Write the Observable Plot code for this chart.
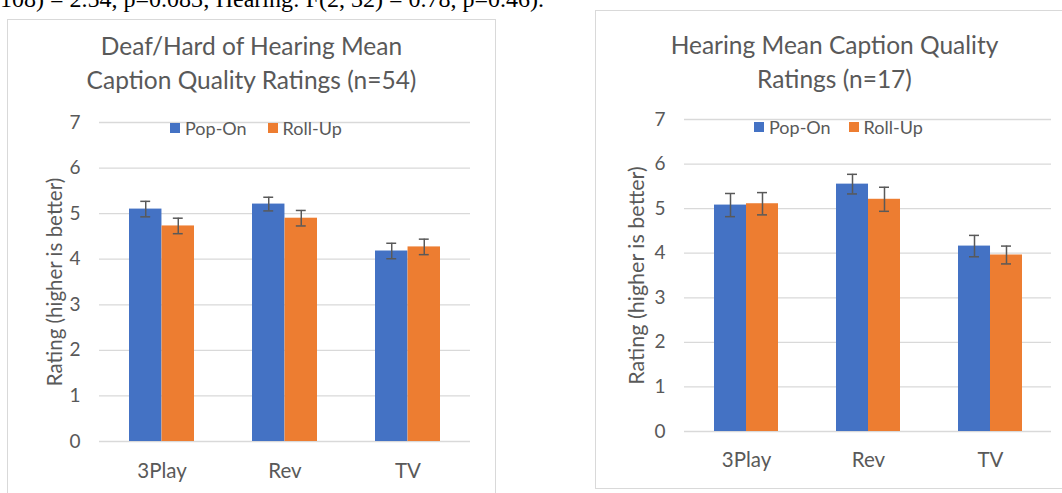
<!DOCTYPE html>
<html><head><meta charset="utf-8">
<script src="https://cdn.jsdelivr.net/npm/d3@7"></script>
<script src="https://cdn.jsdelivr.net/npm/@observablehq/plot@0.6"></script>
<style>
body{margin:0;background:#fff;}
#page{position:relative;width:1062px;height:493px;overflow:hidden;font-family:Lato,sans-serif;color:#595959;background:#fff;}
.box{position:absolute;border:1px solid #d9d9d9;box-sizing:border-box;}
.title{position:absolute;text-align:center;font-size:24.5px;line-height:34px;white-space:nowrap;}
.legend{position:absolute;font-size:18px;height:20px;display:flex;align-items:center;white-space:nowrap;}
.sw{display:inline-block;width:10px;height:10px;margin-right:5px;}
.plot{position:absolute;}
#note{position:absolute;left:0;top:-13.5px;font-family:"Liberation Serif",serif;font-size:24px;line-height:24px;color:#000;white-space:nowrap;}
</style></head><body>
<div id="page">
  <div id="note">108) = 2.54, p=0.083; Hearing: F(2, 32) = 0.78, p=0.46).</div>
</div>
<script>
const categories = ["3Play", "Rev", "TV"];
const seriesNames = ["Pop-On", "Roll-Up"];
const seriesColors = ["#4472C4", "#ED7D31"];
const yTicks = [0, 1, 2, 3, 4, 5, 6, 7];
const yLabel = "Rating (higher is better)";

const dhhTitle = ["Deaf/Hard of Hearing Mean", "Caption Quality Ratings (n=54)"];
const dhhPopOn = [5.10, 5.21, 4.18];
const dhhPopOnErr = [0.17, 0.15, 0.17];
const dhhRollUp = [4.73, 4.90, 4.27];
const dhhRollUpErr = [0.17, 0.17, 0.17];

const hearTitle = ["Hearing Mean Caption Quality", "Ratings (n=17)"];
const hearPopOn = [5.08, 5.55, 4.16];
const hearPopOnErr = [0.26, 0.22, 0.24];
const hearRollUp = [5.11, 5.21, 3.96];
const hearRollUpErr = [0.25, 0.27, 0.20];

const page = document.getElementById("page");

function el(cls, css, html) {
  const d = document.createElement("div");
  if (cls) d.className = cls;
  Object.assign(d.style, css);
  if (html != null) d.innerHTML = html;
  page.appendChild(d);
  return d;
}

function legend(left, top, gap) {
  const lg = el("legend", {left: left + "px", top: top + "px"});
  seriesNames.forEach((s, i) => {
    const sw = document.createElement("span");
    sw.className = "sw";
    sw.style.background = seriesColors[i];
    lg.appendChild(sw);
    const t = document.createElement("span");
    t.textContent = s;
    if (i === 0) t.style.marginRight = gap + "px";
    lg.appendChild(t);
  });
}

function chart(cfg) {
  const rows = categories.map((c, i) => ({
    cat: c,
    pop: cfg.pop[i], popErr: cfg.popErr[i],
    roll: cfg.roll[i], rollErr: cfg.rollErr[i]
  }));
  const W = cfg.width - cfg.mL - cfg.mR;
  const step = W / (categories.length - cfg.pi + 2 * cfg.po);
  const bw = step * (1 - cfg.pi);
  const half = bw / 2;
  const capW = 10;
  const errStyle = {stroke: "#595959", strokeWidth: 1.5};
  const capL = {insetLeft: half / 2 - capW / 2, insetRight: bw - half / 2 - capW / 2};
  const capR = {insetLeft: half + half / 2 - capW / 2, insetRight: half / 2 - capW / 2};
  const svg = Plot.plot({
    width: cfg.width,
    height: cfg.height,
    marginLeft: cfg.mL,
    marginRight: cfg.mR,
    marginTop: cfg.mT,
    marginBottom: cfg.mB,
    style: {fontFamily: "Lato, sans-serif", fontSize: cfg.tickFont + "px", color: "#595959", background: "transparent", overflow: "visible"},
    x: {domain: categories, paddingInner: cfg.pi, paddingOuter: cfg.po, tickSize: 0, tickPadding: cfg.xPad, label: null},
    y: {domain: [0, 7], ticks: yTicks, tickSize: 0, tickPadding: cfg.yPad, label: null, tickFormat: d => String(d)},
    marks: [
      Plot.ruleY(yTicks, {y: d => d, stroke: "#d9d9d9", strokeWidth: 1.3}),
      Plot.barY(rows, {x: "cat", y: "pop", fill: seriesColors[0], insetRight: half}),
      Plot.barY(rows, {x: "cat", y: "roll", fill: seriesColors[1], insetLeft: half}),
      Plot.ruleX(rows, {x: "cat", y1: d => d.pop - d.popErr, y2: d => d.pop + d.popErr, dx: -half / 2, ...errStyle}),
      Plot.ruleX(rows, {x: "cat", y1: d => d.roll - d.rollErr, y2: d => d.roll + d.rollErr, dx: half / 2, ...errStyle}),
      Plot.tickY(rows, {x: "cat", y: d => d.pop + d.popErr, ...capL, ...errStyle}),
      Plot.tickY(rows, {x: "cat", y: d => d.pop - d.popErr, ...capL, ...errStyle}),
      Plot.tickY(rows, {x: "cat", y: d => d.roll + d.rollErr, ...capR, ...errStyle}),
      Plot.tickY(rows, {x: "cat", y: d => d.roll - d.rollErr, ...capR, ...errStyle}),
      Plot.text([yLabel], {text: d => d, frameAnchor: "left", textAnchor: "middle", dx: -cfg.labelOff, rotate: -90, fontSize: cfg.labelFont, fill: "#595959"})
    ]
  });
  // category labels slightly larger than y tick labels
  svg.querySelectorAll("[aria-label='x-axis tick label'] text, g[aria-label^='x-axis'] text").forEach(t => t.setAttribute("font-size", cfg.catFont));
  svg.classList.add("plot");
  svg.style.left = cfg.left + "px";
  svg.style.top = cfg.top + "px";
  svg.style.position = "absolute";
  page.appendChild(svg);
}

// Left chart: Deaf/Hard of Hearing
el("box", {left: "7px", top: "19px", width: "489px", height: "490px"});
el("title", {left: "7px", top: "29px", width: "489px"}, dhhTitle.join("<br>"));
chart({
  pop: dhhPopOn, popErr: dhhPopOnErr, roll: dhhRollUp, rollErr: dhhRollUpErr,
  left: 0, top: 100, width: 496, height: 393,
  mL: 99, mR: 26, mT: 22, mB: 52,
  pi: 0.474, po: 0.236, xPad: 22, yPad: 19, labelOff: 44,
  tickFont: 19, catFont: 20.5, labelFont: 20.5
});
legend(170, 118, 21);

// Right chart: Hearing
el("box", {left: "595px", top: "10px", width: "479px", height: "479px"});
el("title", {left: "595px", top: "28px", width: "479px"}, hearTitle.join("<br>"));
chart({
  pop: hearPopOn, popErr: hearPopOnErr, roll: hearRollUp, rollErr: hearRollUpErr,
  left: 595, top: 100, width: 467, height: 380,
  mL: 89, mR: 11, mT: 19, mB: 49,
  pi: 0.477, po: 0.2385, xPad: 21, yPad: 19, labelOff: 47,
  tickFont: 19, catFont: 20.5, labelFont: 21.5
});
legend(754, 117, 18);
</script>
</body></html>
